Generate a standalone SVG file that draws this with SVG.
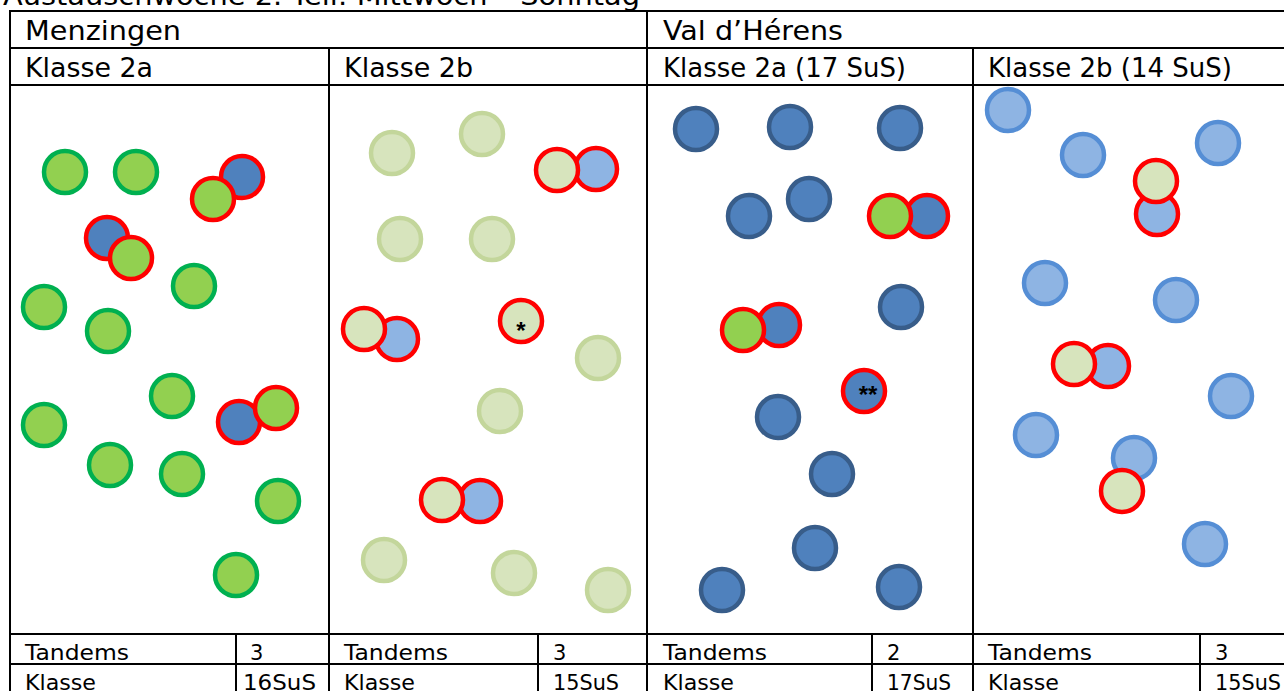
<svg xmlns="http://www.w3.org/2000/svg" width="1284" height="691" viewBox="0 0 1284 691">
  <style>
    text { font-family: "DejaVu Sans", "Liberation Sans", sans-serif; fill: #000; }
    .h { font-size: 27px; }
    .s { font-size: 21px; }
    .grid line { stroke: #000; stroke-width: 2; }
    circle { stroke-width: 4.5; }
    .g  { fill: #92D050; stroke: #00B050; }
    .pg { fill: #D7E4BD; stroke: #C3D69B; }
    .db { fill: #4F81BD; stroke: #385D8A; }
    .lb { fill: #8EB4E3; stroke: #558ED5; }
    .r  { stroke: #FF0000; }
    .mark { font-family: "Liberation Sans", sans-serif; font-size: 24px; font-weight: bold; }
  </style>

  <!-- heading, partly above the page edge -->
  <text class="h" x="3" y="5" textLength="637" lengthAdjust="spacingAndGlyphs">Austauschwoche 2. Teil: Mittwoch – Sonntag</text>

  <!-- table grid -->
  <g class="grid">
    <line x1="10" y1="11" x2="1284" y2="11"/>
    <line x1="10" y1="48" x2="1284" y2="48"/>
    <line x1="10" y1="85" x2="1284" y2="85"/>
    <line x1="10" y1="634" x2="1284" y2="634"/>
    <line x1="10" y1="664" x2="1284" y2="664"/>
    <line x1="10" y1="10" x2="10" y2="691"/>
    <line x1="647" y1="10" x2="647" y2="691"/>
    <line x1="329" y1="48" x2="329" y2="691"/>
    <line x1="973" y1="48" x2="973" y2="691"/>
    <line x1="236" y1="634" x2="236" y2="691"/>
    <line x1="538" y1="634" x2="538" y2="691"/>
    <line x1="872" y1="634" x2="872" y2="691"/>
    <line x1="1200" y1="634" x2="1200" y2="691"/>
  </g>

  <!-- header labels -->
  <g id="headers">
    <text class="h" x="25" y="40" textLength="156" lengthAdjust="spacingAndGlyphs">Menzingen</text>
    <text class="h" x="663" y="40" textLength="180" lengthAdjust="spacingAndGlyphs">Val d’Hérens</text>
    <text class="h" x="25" y="77" textLength="128" lengthAdjust="spacingAndGlyphs">Klasse 2a</text>
    <text class="h" x="344" y="77" textLength="129" lengthAdjust="spacingAndGlyphs">Klasse 2b</text>
    <text class="h" x="663" y="77" textLength="243" lengthAdjust="spacingAndGlyphs">Klasse 2a (17 SuS)</text>
    <text class="h" x="988" y="77" textLength="244" lengthAdjust="spacingAndGlyphs">Klasse 2b (14 SuS)</text>
  </g>

  <!-- Menzingen, Klasse 2a -->
  <g id="menzingen-2a">
    <circle class="g" cx="65" cy="172" r="21"/>
    <circle class="g" cx="136" cy="172" r="21"/>
    <circle class="db r" cx="242" cy="177" r="21"/>
    <circle class="g r" cx="213" cy="199" r="21"/>
    <circle class="db r" cx="107" cy="238" r="21"/>
    <circle class="g r" cx="131" cy="258" r="21"/>
    <circle class="g" cx="194" cy="286" r="21"/>
    <circle class="g" cx="44" cy="307" r="21"/>
    <circle class="g" cx="108" cy="331" r="21"/>
    <circle class="g" cx="172" cy="396" r="21"/>
    <circle class="g" cx="44" cy="425" r="21"/>
    <circle class="db r" cx="239" cy="422" r="21"/>
    <circle class="g r" cx="276" cy="408" r="21"/>
    <circle class="g" cx="110" cy="465" r="21"/>
    <circle class="g" cx="182" cy="474" r="21"/>
    <circle class="g" cx="278" cy="501" r="21"/>
    <circle class="g" cx="236" cy="575" r="21"/>
  </g>

  <!-- Menzingen, Klasse 2b -->
  <g id="menzingen-2b">
    <circle class="pg" cx="392" cy="153" r="21"/>
    <circle class="pg" cx="482" cy="134" r="21"/>
    <circle class="lb r" cx="596" cy="169" r="21"/>
    <circle class="pg r" cx="557" cy="170" r="21"/>
    <circle class="pg" cx="400" cy="239" r="21"/>
    <circle class="pg" cx="492" cy="239" r="21"/>
    <circle class="lb r" cx="397" cy="339" r="21"/>
    <circle class="pg r" cx="364" cy="329" r="21"/>
    <circle class="pg r" cx="521" cy="321" r="21"/>
    <text class="mark" x="521" y="339" text-anchor="middle">*</text>
    <circle class="pg" cx="598" cy="358" r="21"/>
    <circle class="pg" cx="500" cy="411" r="21"/>
    <circle class="lb r" cx="480" cy="501" r="21"/>
    <circle class="pg r" cx="442" cy="500" r="21"/>
    <circle class="pg" cx="384" cy="560" r="21"/>
    <circle class="pg" cx="514" cy="573" r="21"/>
    <circle class="pg" cx="608" cy="590" r="21"/>
  </g>

  <!-- Val d'Hérens, Klasse 2a -->
  <g id="valdherens-2a">
    <circle class="db" cx="696" cy="129" r="21"/>
    <circle class="db" cx="790" cy="127" r="21"/>
    <circle class="db" cx="900" cy="128" r="21"/>
    <circle class="db" cx="749" cy="216" r="21"/>
    <circle class="db" cx="809" cy="199" r="21"/>
    <circle class="db r" cx="927" cy="216" r="21"/>
    <circle class="g r" cx="890" cy="216" r="21"/>
    <circle class="db" cx="901" cy="307" r="21"/>
    <circle class="db r" cx="779" cy="325" r="21"/>
    <circle class="g r" cx="743" cy="330" r="21"/>
    <circle class="db r" cx="864" cy="391" r="21"/>
    <text class="mark" x="868" y="403" text-anchor="middle">**</text>
    <circle class="db" cx="778" cy="417" r="21"/>
    <circle class="db" cx="832" cy="474" r="21"/>
    <circle class="db" cx="815" cy="548" r="21"/>
    <circle class="db" cx="722" cy="590" r="21"/>
    <circle class="db" cx="899" cy="587" r="21"/>
  </g>

  <!-- Val d'Hérens, Klasse 2b -->
  <g id="valdherens-2b">
    <circle class="lb" cx="1008" cy="110" r="21"/>
    <circle class="lb" cx="1083" cy="155" r="21"/>
    <circle class="lb" cx="1218" cy="143" r="21"/>
    <circle class="lb r" cx="1157" cy="214" r="21"/>
    <circle class="pg r" cx="1156" cy="181" r="21"/>
    <circle class="lb" cx="1045" cy="283" r="21"/>
    <circle class="lb" cx="1176" cy="300" r="21"/>
    <circle class="lb r" cx="1108" cy="366" r="21"/>
    <circle class="pg r" cx="1074" cy="364" r="21"/>
    <circle class="lb" cx="1231" cy="396" r="21"/>
    <circle class="lb" cx="1036" cy="435" r="21"/>
    <circle class="lb" cx="1134" cy="458" r="21"/>
    <circle class="pg r" cx="1122" cy="491" r="21"/>
    <circle class="lb" cx="1205" cy="544" r="21"/>
  </g>

  <!-- summary rows -->
  <g id="summary">
    <text class="s" x="25" y="660" textLength="104" lengthAdjust="spacingAndGlyphs">Tandems</text>
    <text class="s" x="250" y="660">3</text>
    <text class="s" x="25" y="690" textLength="71" lengthAdjust="spacingAndGlyphs">Klasse</text>
    <text class="s" x="243" y="690" textLength="73" lengthAdjust="spacingAndGlyphs">16SuS</text>

    <text class="s" x="344" y="660" textLength="104" lengthAdjust="spacingAndGlyphs">Tandems</text>
    <text class="s" x="553" y="660">3</text>
    <text class="s" x="344" y="690" textLength="71" lengthAdjust="spacingAndGlyphs">Klasse</text>
    <text class="s" x="553" y="690" textLength="66" lengthAdjust="spacingAndGlyphs">15SuS</text>

    <text class="s" x="663" y="660" textLength="104" lengthAdjust="spacingAndGlyphs">Tandems</text>
    <text class="s" x="887" y="660">2</text>
    <text class="s" x="663" y="690" textLength="71" lengthAdjust="spacingAndGlyphs">Klasse</text>
    <text class="s" x="887" y="690" textLength="64" lengthAdjust="spacingAndGlyphs">17SuS</text>

    <text class="s" x="988" y="660" textLength="104" lengthAdjust="spacingAndGlyphs">Tandems</text>
    <text class="s" x="1215" y="660">3</text>
    <text class="s" x="988" y="690" textLength="71" lengthAdjust="spacingAndGlyphs">Klasse</text>
    <text class="s" x="1215" y="690" textLength="66" lengthAdjust="spacingAndGlyphs">15SuS</text>
  </g>
</svg>
